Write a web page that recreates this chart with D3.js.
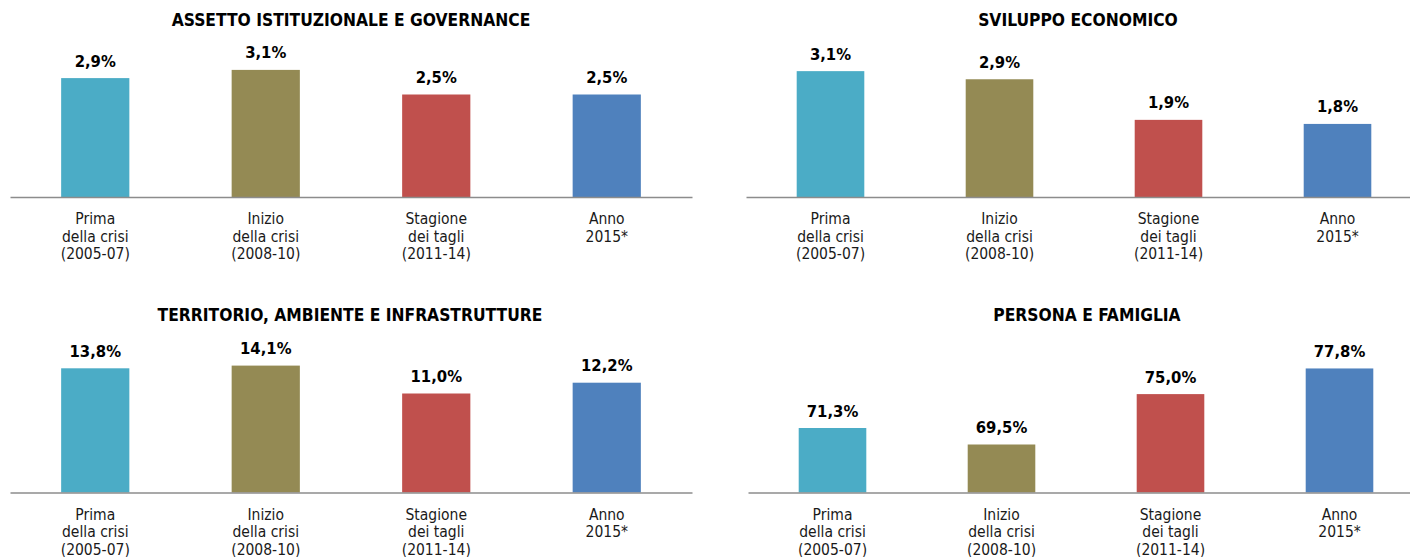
<!DOCTYPE html>
<html>
<head>
<meta charset="utf-8">
<script src="https://cdn.jsdelivr.net/npm/d3@7"></script>
<style>
  body { margin: 0; background: #fff; }
  svg { display: block; }
  .title { font-family: "DejaVu Sans Condensed", "DejaVu Sans", sans-serif; font-weight: bold; font-size: 17.3px; fill: #000; }
  .value { font-family: "DejaVu Sans Condensed", "DejaVu Sans", sans-serif; font-weight: bold; font-size: 16.5px; fill: #000; }
  .cat { font-family: "DejaVu Sans Condensed", "DejaVu Sans", sans-serif; font-size: 15.5px; fill: #1a1a1a; }
</style>
</head>
<body>
<svg width="1410" height="557"></svg>
<script>
// categories (multi-line labels)
var categories = ["Prima|della crisi|(2005-07)", "Inizio|della crisi|(2008-10)", "Stagione|dei tagli|(2011-14)", "Anno|2015*"];
var barColors = ["#4BACC6", "#948A54", "#C0504D", "#4F81BD"];

var titles = ["ASSETTO ISTITUZIONALE E GOVERNANCE", "SVILUPPO ECONOMICO",
              "TERRITORIO, AMBIENTE E INFRASTRUTTURE", "PERSONA E FAMIGLIA"];

var assetto = [2.9, 3.1, 2.5, 2.5];
var sviluppo = [3.1, 2.9, 1.9, 1.8];
var territorio = [13.8, 14.1, 11.0, 12.2];
var persona = [71.3, 69.5, 75.0, 77.8];

// value axis extents per panel
var yDomains = [[0, 3.5], [0, 3.5], [0, 16], [64.26, 80]];

// panel layout
var panels = [
  { values: assetto,    x0: 10,  x1: 692,  base: 197,   top: 53.5,  tx: 351,  ty: 26 },
  { values: sviluppo,   x0: 746, x1: 1422, base: 197,   top: 54.9,  tx: 1078, ty: 26 },
  { values: territorio, x0: 10,  x1: 692,  base: 492.5, top: 348.5, tx: 350,  ty: 321 },
  { values: persona,    x0: 748, x1: 1424, base: 492.5, top: 348.3, tx: 1087, ty: 321 }
];

var locale = d3.formatLocale({ decimal: ",", thousands: ".", grouping: [3], currency: ["", "€"] });
var fmt = locale.format(".1f");

var svg = d3.select("svg");

panels.forEach(function(p, i) {
  var g = svg.append("g");

  var x = d3.scaleBand().domain(categories).range([p.x0, p.x1]).paddingInner(0.6).paddingOuter(0.3);
  var y = d3.scaleLinear().domain(yDomains[i]).range([p.base, p.top]);

  g.append("text").attr("class", "title")
    .attr("x", p.tx).attr("y", p.ty)
    .attr("text-anchor", "middle")
    .text(titles[i]);

  g.selectAll("rect").data(p.values).enter().append("rect")
    .attr("x", function(d, j) { return x(categories[j]); })
    .attr("width", x.bandwidth())
    .attr("y", function(d) { return y(d); })
    .attr("height", function(d) { return p.base - y(d); })
    .attr("fill", function(d, j) { return barColors[j]; });

  g.selectAll(".value").data(p.values).enter().append("text")
    .attr("class", "value")
    .attr("x", function(d, j) { return x(categories[j]) + x.bandwidth() / 2; })
    .attr("y", function(d) { return y(d) - 11.5; })
    .attr("text-anchor", "middle")
    .text(function(d) { return fmt(d) + "%"; });

  var axis = g.append("g")
    .attr("transform", "translate(0," + p.base + ")")
    .call(d3.axisBottom(x).tickSize(0).tickPadding(0).tickFormat(""));
  axis.select(".domain").attr("stroke", "#8c8c8c").attr("stroke-width", 1.5);

  axis.selectAll(".tick text").each(function(d) {
    var t = d3.select(this).attr("class", "cat").attr("y", 0).attr("dy", null)
      .attr("font-size", null).attr("font-family", null).attr("fill", null);
    d.split("|").forEach(function(line, k) {
      t.append("tspan").attr("x", 0).attr("y", 27 + k * 17.5).text(line);
    });
  });
});
</script>
</body>
</html>
